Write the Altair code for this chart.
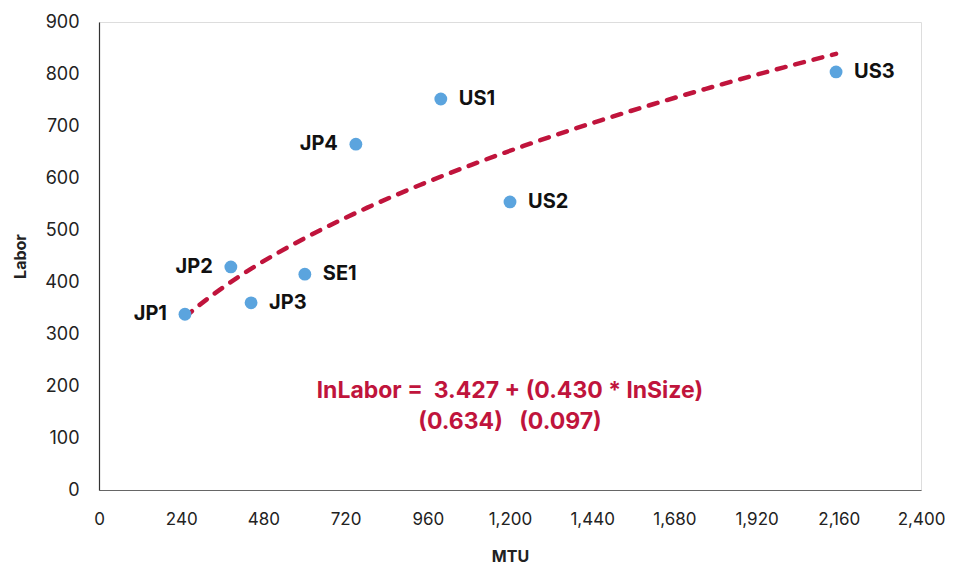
import altair as alt
import pandas as pd

names = ["JP1", "JP2", "JP3", "SE1", "JP4", "US1", "US2", "US3"]
mtu = [251, 385, 444, 601, 750, 998, 1200, 2152]
labor = [338, 429, 360, 415, 665, 752, 554, 804]
side = ["left", "left", "right", "right", "left", "right", "right", "right"]

x_ticks = [0, 240, 480, 720, 960, 1200, 1440, 1680, 1920, 2160, 2400]
y_ticks = [0, 100, 200, 300, 400, 500, 600, 700, 800, 900]

NB = "\u00a0"
eq_lines = ["lnLabor =" + NB * 2 + "3.427 + (0.430 * lnSize)", "(0.634)" + NB * 3 + "(0.097)"]
eq_x = [1200, 1200]
eq_y = [190, 130]

df = pd.DataFrame({"name": names, "mtu": mtu, "labor": labor, "side": side})
eq = pd.DataFrame({"text": eq_lines, "mtu": eq_x, "labor": eq_y})

FONT = "Inter"
RED = "#C0143C"
BLUE = "#5BA4DE"

xs = alt.X("mtu:Q", scale=alt.Scale(domain=[0, 2400], nice=False, zero=True),
           axis=alt.Axis(values=x_ticks, format=",.0f", title="MTU", grid=False, ticks=False,
                         domainColor="#666", domainWidth=1.2, labelFont=FONT, labelFontSize=17,
                         labelColor="#222", labelPadding=21, titleFont=FONT, titleFontSize=16,
                         titleFontWeight="bold", titleColor="#222", titleY=66,
                         titleBaseline="middle", labelFlush=False))
ys = alt.Y("labor:Q", scale=alt.Scale(domain=[0, 900], nice=False),
           axis=alt.Axis(values=y_ticks, title="Labor", grid=False, ticks=False,
                         domainColor="#333", domainWidth=1.2, labelFont=FONT, labelFontSize=18,
                         labelColor="#222", labelPadding=20, titleFont=FONT, titleFontSize=16,
                         titleFontWeight="bold", titleColor="#222", titleX=-79, titleY=234,
                         titleAngle=-90, titleAlign="center", titleBaseline="middle"))

base = alt.Chart(df)

trend = base.transform_regression("mtu", "labor", method="pow").mark_line(
    color=RED, strokeWidth=4.5, strokeDash=[9, 10], strokeCap="round"
).encode(x=xs, y=ys)

points = base.mark_circle(size=165, color=BLUE, opacity=1).encode(x=xs, y=ys)

lab_r = base.transform_filter(alt.datum.side == "right").mark_text(
    align="left", baseline="middle", dx=18, font=FONT, fontSize=20, fontWeight="bold", color="#111"
).encode(x=xs, y=ys, text="name:N")
lab_l = base.transform_filter(alt.datum.side == "left").mark_text(
    align="right", baseline="middle", dx=-18, font=FONT, fontSize=20, fontWeight="bold", color="#111"
).encode(x=xs, y=ys, text="name:N")

eq_text = alt.Chart(eq).mark_text(
    align="center", baseline="middle", font=FONT, fontSize=23, fontWeight="bold", color=RED
).encode(x=xs, y=ys, text="text:N")

chart = alt.layer(trend, points, lab_r, lab_l, eq_text).properties(
    width=822, height=468,
    autosize=alt.AutoSizeParams(type="none"),
    padding={"left": 91, "top": 14, "right": 24, "bottom": 74},
).configure_view(stroke=None).configure(background="white")

chart.save("out.html", embed_options={"renderer": "svg", "actions": False})
